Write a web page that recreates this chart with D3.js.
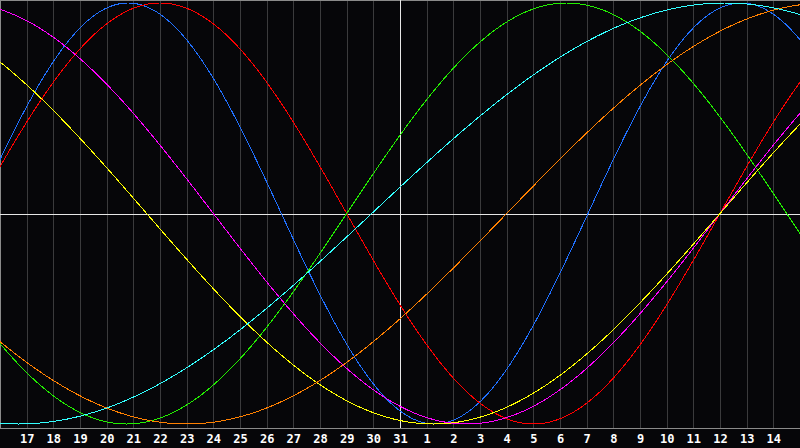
<!DOCTYPE html>
<html>
<head>
<meta charset="utf-8">
<script src="https://cdn.jsdelivr.net/npm/d3@7"></script>
<style>
  html, body { margin: 0; padding: 0; background: #060609; }
  svg { display: block; }
</style>
</head>
<body>
<div class="container"></div>
<script>
// day labels along the bottom, one per grid line (index 1..29)
var dayLabels = [17, 18, 19, 20, 21, 22, 23, 24, 25, 26, 27, 28, 29, 30, 31,
                 1, 2, 3, 4, 5, 6, 7, 8, 9, 10, 11, 12, 13, 14];

// cycles: length in days, and the day index where each one crosses zero going up
var cycleNames   = ['physical', 'emotional', 'intellectual', 'intuitive', 'aesthetic', 'awareness', 'spiritual'];
var cyclePeriods = [23, 28, 33, 38, 43, 48, 53];
var cycleZeroUp  = [22.05, 27, 13, 27, 27, 19, 13.94];
var cycleColors  = ['#2070ff', '#ff0000', '#22ee00', '#ff00ff', '#ffff00', '#ff8000', '#33ffff'];

var opts = {
  width: 800,
  height: 448,
  plotBottom: 428,
  days: 30
};

var svg = d3.select('.container').append('svg')
            .attr('width', opts.width)
            .attr('height', opts.height);

var x = d3.scaleLinear().domain([0, opts.days]).range([0, opts.width]);
var y = d3.scaleLinear().domain([-1, 1]).range([424, 3]);

svg.append('rect')
   .attr('width', opts.width).attr('height', opts.height)
   .attr('fill', '#060609');

// vertical day grid
svg.append('g')
   .selectAll('line')
   .data(d3.range(1, opts.days))
   .enter()
   .append('line')
   .attr('x1', function(d){ return Math.round(x(d)) + 0.5; })
   .attr('x2', function(d){ return Math.round(x(d)) + 0.5; })
   .attr('y1', 0)
   .attr('y2', opts.plotBottom)
   .attr('stroke', '#3a3a3c')
   .attr('stroke-width', 1)
   .attr('shape-rendering', 'crispEdges');

// frame: top and left border, bottom axis line
svg.append('line').attr('x1', 0).attr('x2', opts.width).attr('y1', 0.5).attr('y2', 0.5)
   .attr('stroke', '#8a8a8a').attr('shape-rendering', 'crispEdges');
svg.append('line').attr('x1', 0.5).attr('x2', 0.5).attr('y1', 0).attr('y2', opts.plotBottom)
   .attr('stroke', '#8a8a8a').attr('shape-rendering', 'crispEdges');
svg.append('line').attr('x1', 0).attr('x2', opts.width)
   .attr('y1', opts.plotBottom + 0.5).attr('y2', opts.plotBottom + 0.5)
   .attr('stroke', '#8a8a8a').attr('stroke-width', 1).attr('shape-rendering', 'crispEdges');

// centre cross (today / zero)
svg.append('line').attr('x1', 0).attr('x2', opts.width).attr('y1', 214.5).attr('y2', 214.5)
   .attr('stroke', '#e6e6e6').attr('shape-rendering', 'crispEdges');
svg.append('line').attr('x1', x(15) + 0.5).attr('x2', x(15) + 0.5).attr('y1', 0).attr('y2', opts.plotBottom)
   .attr('stroke', '#e6e6e6').attr('shape-rendering', 'crispEdges');

// the cycle curves
var cycles = cycleNames.map(function(name, i){
  return { name: name, period: cyclePeriods[i], zero: cycleZeroUp[i], color: cycleColors[i] };
});

var steps = d3.range(0, opts.days + 0.001, 0.02);

var line = d3.line()
             .x(function(d){ return x(d[0]); })
             .y(function(d){ return y(d[1]); });

svg.append('g')
   .selectAll('path')
   .data(cycles)
   .enter()
   .append('path')
   .attr('d', function(c){
     return line(steps.map(function(t){
       return [t, Math.sin(2 * Math.PI * (t - c.zero) / c.period)];
     }));
   })
   .attr('fill', 'none')
   .attr('stroke', function(c){ return c.color; })
   .attr('stroke-width', 1)
   .attr('shape-rendering', 'crispEdges');

// day labels
var xAxis = d3.axisBottom(x)
              .tickValues(d3.range(1, opts.days))
              .tickSize(0)
              .tickFormat(function(d){ return dayLabels[d - 1]; });

var ax = svg.append('g')
            .attr('transform', 'translate(0,' + opts.plotBottom + ')')
            .call(xAxis);
ax.select('.domain').remove();
ax.selectAll('text')
  .attr('y', 15)
  .attr('dy', 0)
  .attr('fill', '#ffffff')
  .style('font-family', '"DejaVu Sans Mono", monospace')
  .style('font-weight', 'bold')
  .style('font-size', '12px');
</script>
</body>
</html>
